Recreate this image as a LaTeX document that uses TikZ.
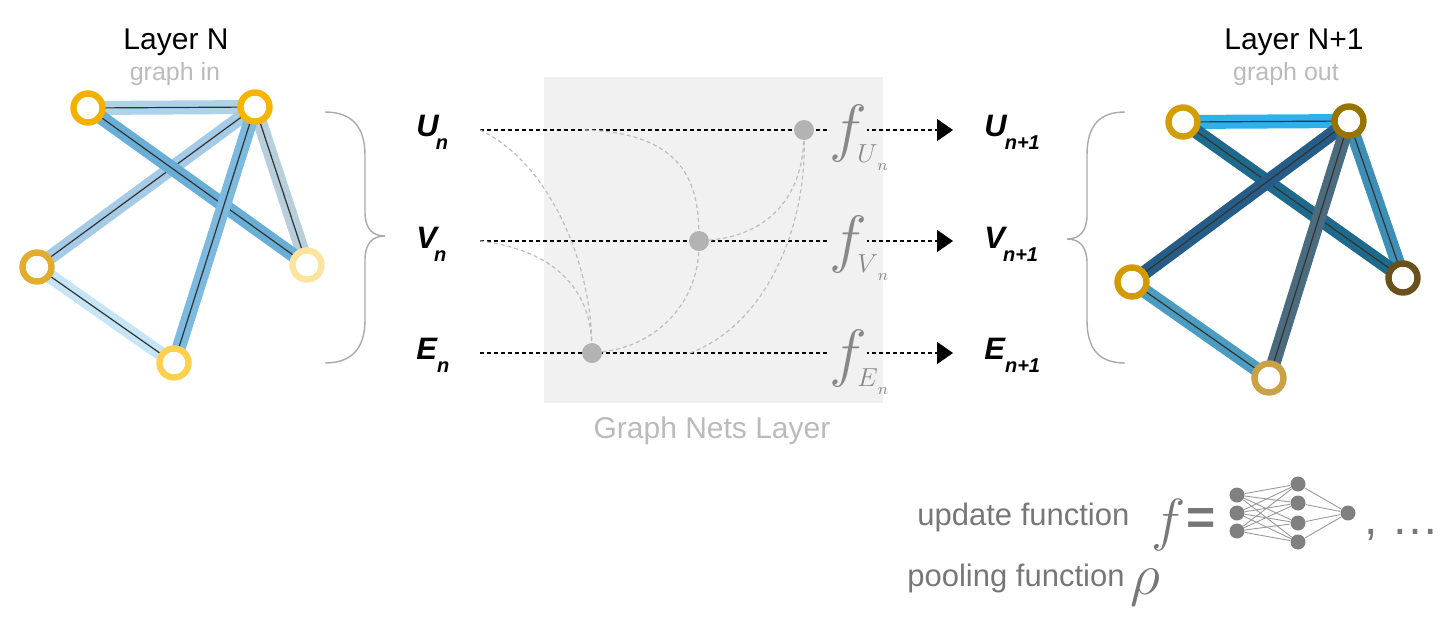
\RequirePackage{fix-cm}
\documentclass[tikz,border=0pt]{standalone}
\usepackage{fontspec}
\setmainfont{Liberation Sans}
\usetikzlibrary{arrows.meta}
\pgfdeclarelayer{back}
\pgfdeclarelayer{mid}
\pgfsetlayers{back,mid,main}
\definecolor{boxgray}{HTML}{F1F1F1}
\definecolor{dotgray}{HTML}{B3B3B3}
\definecolor{curvegray}{HTML}{BDBDBD}
\definecolor{fgray}{HTML}{888888}
\definecolor{textgray}{HTML}{777777}
\definecolor{lightgray}{HTML}{BBBBBB}
\definecolor{bracegray}{HTML}{AAAAAA}
\definecolor{edgecore}{HTML}{333333}
\definecolor{nngray}{HTML}{808080}
\definecolor{nnline}{HTML}{9A9A9A}
% left graph
\definecolor{lnA}{HTML}{F2B000}
\definecolor{lnB}{HTML}{F7B500}
\definecolor{lnC}{HTML}{E2AD2F}
\definecolor{lnD}{HTML}{FDE49E}
\definecolor{lnE}{HTML}{FDD14F}
\definecolor{leAB}{HTML}{AED3E8}
\definecolor{leAD}{HTML}{69AED6}
\definecolor{leBC}{HTML}{A6CBE6}
\definecolor{leBE}{HTML}{7DBAE0}
\definecolor{leBD}{HTML}{B7CFDC}
\definecolor{leCE}{HTML}{C6E6F7}
% right graph
\definecolor{rnA}{HTML}{D29E00}
\definecolor{rnB}{HTML}{977300}
\definecolor{rnC}{HTML}{D39A00}
\definecolor{rnD}{HTML}{6A5119}
\definecolor{rnE}{HTML}{C9A146}
\definecolor{reAB}{HTML}{2CB1E8}
\definecolor{reAD}{HTML}{1E6A8C}
\definecolor{reBC}{HTML}{255D88}
\definecolor{reBE}{HTML}{4B6B7F}
\definecolor{reBD}{HTML}{3E8FB8}
\definecolor{reCE}{HTML}{4A9CC0}
\begin{document}
\begin{tikzpicture}[x=0.5pt,y=-0.5pt,
  ring/.style={circle, draw=#1, line width=3.2pt, fill=white, minimum size=14.5pt, inner sep=0pt},
  gedge/.style={draw=#1, line width=3.2pt, double=edgecore, double distance=0.6pt},
  vlab/.style={font=\fontsize{15.5}{18}\selectfont\bfseries\itshape, inner sep=0pt, anchor=base west},
  flow/.style={dashed, dash pattern=on 2pt off 1.5pt, line width=0.8pt, black, -{Triangle[length=8pt,width=11pt]}},
  mix/.style={dash pattern=on 2pt off 1.5pt, line width=0.6pt, curvegray},
  dot/.style={circle, fill=dotgray, inner sep=0pt, minimum size=10pt},
  fbig/.style={font=\fontsize{32}{32}\selectfont, text=fgray, fill=boxgray, inner sep=0pt, anchor=base west},
  fsub/.style={font=\fontsize{13}{13}\selectfont, text=fgray, inner sep=0pt, anchor=base west},
  title/.style={font=\fontsize{15}{18}\selectfont, text=black, inner sep=0pt, anchor=base},
  subtitle/.style={font=\fontsize{12.5}{15}\selectfont, text=lightgray, inner sep=0pt, anchor=base},
  brace/.style={draw=bracegray, line width=0.7pt},
  gtext/.style={font=\fontsize{15.5}{18}\selectfont, text=textgray, inner sep=0pt, anchor=base west},
  neuron/.style={circle, fill=nngray, inner sep=0pt, minimum size=7.5pt},
  syn/.style={draw=nnline, line width=0.45pt}]
\useasboundingbox (0,0) rectangle (1448,618);

% ---------- left graph ----------
\node[title] (tL) at (176,49) {Layer N};
\node[subtitle] (sL) at (175,80) {graph in};
\node[ring=lnA] (a) at (88,108) {};
\node[ring=lnB] (b) at (255,107) {};
\node[ring=lnC] (c) at (37,267) {};
\node[ring=lnD] (d) at (307,265) {};
\node[ring=lnE] (e) at (174,363) {};
\begin{pgfonlayer}{mid}
\draw[gedge=leCE] (c.center) -- (e.center);
\draw[gedge=leBD] (b.center) -- (d.center);
\draw[gedge=leAB] (a.center) -- (b.center);
\draw[gedge=leBC] (b.center) -- (c.center);
\draw[gedge=leAD] (a.center) -- (d.center);
\draw[gedge=leBE] (b.center) -- (e.center);
\end{pgfonlayer}
\draw[brace] (325,112) .. controls (350,112) and (365,125) .. (365,155) -- (365,212)
  .. controls (365,228) and (372,236) .. (385,236)
  .. controls (372,236) and (365,244) .. (365,260) -- (365,320)
  .. controls (365,350) and (350,363) .. (325,363);

% ---------- right graph ----------
\node[title] (tR) at (1294,49) {Layer N+1};
\node[subtitle] (sR) at (1286,80) {graph out};
\node[ring=rnA] (ra) at (1183,122) {};
\node[ring=rnB] (rb) at (1349,121) {};
\node[ring=rnC] (rc) at (1132,282) {};
\node[ring=rnD] (rd) at (1403,278) {};
\node[ring=rnE] (re) at (1269,378) {};
\begin{pgfonlayer}{mid}
\draw[gedge=reCE] (rc.center) -- (re.center);
\draw[gedge=reBD] (rb.center) -- (rd.center);
\draw[gedge=reAB] (ra.center) -- (rb.center);
\draw[gedge=reAD] (ra.center) -- (rd.center);
\draw[gedge=reBC] (rb.center) -- (rc.center);
\draw[gedge=reBE] (rb.center) -- (re.center);
\end{pgfonlayer}
\draw[brace] (1125,112) .. controls (1100,112) and (1087,125) .. (1087,155) -- (1087,215)
  .. controls (1087,231) and (1080,239) .. (1067,239)
  .. controls (1080,239) and (1087,247) .. (1087,263) -- (1087,320)
  .. controls (1087,350) and (1100,363) .. (1125,363);

% ---------- middle ----------
\begin{pgfonlayer}{back}
\node[fill=boxgray, inner sep=0pt, minimum width=169.5pt, minimum height=163pt, anchor=north west] (box) at (544,77) {};
\end{pgfonlayer}
\node[font=\fontsize{15}{18}\selectfont, text=lightgray, inner sep=0pt, anchor=base] (gnl) at (712,438) {Graph Nets Layer};

\node[vlab] (U) at (416,136) {U\kern-1.5pt\raisebox{-6.5pt}{\fontsize{10}{12}\selectfont n}};
\node[vlab] (V) at (416,248) {V\kern-1.5pt\raisebox{-6.5pt}{\fontsize{10}{12}\selectfont n}};
\node[vlab] (E) at (416,359) {E\raisebox{-6.5pt}{\fontsize{10}{12}\selectfont n}};
\node[vlab] (U1) at (984,136) {U\kern-1pt\raisebox{-6.5pt}{\fontsize{10}{12}\selectfont n+1}};
\node[vlab] (V1) at (984,248) {V\kern-1pt\raisebox{-6.5pt}{\fontsize{10}{12}\selectfont n+1}};
\node[vlab] (E1) at (984,359) {E\raisebox{-6.5pt}{\fontsize{10}{12}\selectfont n+1}};

\coordinate (uS) at (480,130);
\coordinate (vS) at (480,241);
\coordinate (eS) at (480,353);
\coordinate (uT) at (953,130);
\coordinate (vT) at (953,241);
\coordinate (eT) at (953,353);
\coordinate (u2) at (585,130);
\coordinate (e2) at (690,353);

\node[dot] (dU) at (804,130) {};
\node[dot] (dV) at (699,241) {};
\node[dot] (dE) at (592,353) {};

\begin{pgfonlayer}{mid}
\draw[flow] (uS) -- (uT);
\draw[flow] (vS) -- (vT);
\draw[flow] (eS) -- (eT);
\draw[mix] (uS) .. controls (545,160) and (590,255) .. (dE);
\draw[mix] (vS) .. controls (555,250) and (590,290) .. (dE);
\draw[mix] (u2) .. controls (685,133) and (698,185) .. (dV);
\draw[mix] (dE) .. controls (660,345) and (697,300) .. (dV);
\draw[mix] (dV) .. controls (770,235) and (802,195) .. (dU);
\draw[mix] (e2) .. controls (765,325) and (806,230) .. (dU);
\end{pgfonlayer}

\node[fbig] (fU) at (829,149) {$f$};
\node[fsub] (sU) at (857,162) {$U$\raisebox{-4pt}{\fontsize{8}{8}\selectfont$n$}};
\node[fbig] (fV) at (829,260) {$f$};
\node[fsub] (sV) at (857,272) {$V$\raisebox{-4pt}{\fontsize{8}{8}\selectfont$n$}};
\node[fbig] (fE) at (829,374) {$f$};
\node[fsub] (sE) at (857,386) {$E$\raisebox{-4pt}{\fontsize{8}{8}\selectfont$n$}};

% ---------- legend ----------
\node[gtext] (upd) at (917,525) {update function};
\node[gtext] (pool) at (907,586) {pooling function};
\node[font=\fontsize{29}{29}\selectfont, text=textgray, inner sep=0pt, anchor=base west] (fL) at (1151,539) {$f$};
\node[font=\fontsize{29.5}{29.5}\selectfont, text=textgray, inner sep=0pt, anchor=base west] (rho) at (1130,594) {$\rho$};
\node[font=\fontsize{25}{25}\selectfont\bfseries, text=textgray, inner sep=0pt, anchor=base west] (eq) at (1186,534) {=};
\node[font=\fontsize{24}{24}\selectfont, text=textgray, inner sep=0pt, anchor=base west] (etc) at (1364,534) {, …};

\node[neuron] (i1) at (1237,495) {};
\node[neuron] (i2) at (1237,513) {};
\node[neuron] (i3) at (1237,531) {};
\node[neuron] (h1) at (1298,484) {};
\node[neuron] (h2) at (1298,503) {};
\node[neuron] (h3) at (1298,523) {};
\node[neuron] (h4) at (1298,542) {};
\node[neuron] (o) at (1348,513) {};
\foreach \i in {i1,i2,i3}{\foreach \h in {h1,h2,h3,h4}{\draw[syn] (\i) -- (\h);}}
\foreach \h in {h1,h2,h3,h4}{\draw[syn] (\h) -- (o);}
\end{tikzpicture}
\end{document}
